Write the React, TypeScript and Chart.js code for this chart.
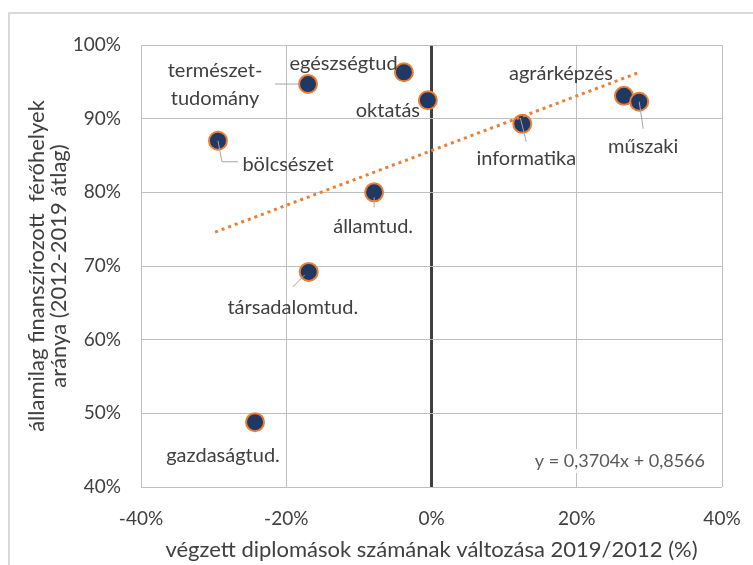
import React, { useEffect, useRef } from "react";
import { Chart, registerables } from "chart.js";

Chart.register(...registerables);

// ---- data ----
const pointLabels: string[][] = [
  ["természet-", "tudomány"],
  ["egészségtud."],
  ["oktatás"],
  ["bölcsészet"],
  ["államtud."],
  ["társadalomtud."],
  ["gazdaságtud."],
  ["informatika"],
  ["agrárképzés"],
  ["műszaki"],
];
const xValues = [-17.0, -3.8, -0.5, -29.4, -7.9, -16.9, -24.3, 12.5, 26.5, 28.6];
const yValues = [94.7, 96.3, 92.5, 87.0, 80.0, 69.2, 48.8, 89.3, 93.1, 92.3];
const trendX = [-29.8, 28.4];
const trendY = [74.6, 96.2];
const equationText = "y = 0,3704x + 0,8566";
const xTitle = "végzett diplomások számának változása 2019/2012 (%)";
const yTitle = ["államilag finanszírozott  férőhelyek", "aránya (2012-2019 átlag)"];

// ---- label layout (pixel offsets from each point) ----
const labelOffsets: [number, number][] = [
  [-93, 1], [-58, -9], [-40, 10], [70, 24], [-1, 34],
  [-16, 36], [-32, 33], [4, 35], [-63, -22], [4, 45],
];
const leaders: ([number, number][] | null)[] = [
  [[-33, 0], [-8, 0]],
  null,
  null,
  [[0, 0], [4, 21], [20, 21]],
  [[0, 5], [0, 15]],
  [[-16, 15], [-4, 3]],
  null,
  [[-2, -6], [4, 18]],
  null,
  [[0, 0], [4, 27]],
];

const FONT = "Lato, 'Open Sans', sans-serif";

const decorPlugin = {
  id: "decor",
  beforeDraw(chart: any) {
    const ctx = chart.ctx;
    ctx.save();
    ctx.strokeStyle = "#d9d9d9";
    ctx.lineWidth = 2;
    ctx.beginPath();
    ctx.moveTo(9, 565);
    ctx.lineTo(9, 13);
    ctx.lineTo(753, 13);
    ctx.stroke();
    ctx.restore();
  },
  afterDatasetsDraw(chart: any) {
    const ctx = chart.ctx;
    const meta = chart.getDatasetMeta(1);
    ctx.save();
    // leader lines
    ctx.strokeStyle = "#a6a6a6";
    ctx.lineWidth = 1;
    meta.data.forEach((el: any, i: number) => {
      const l = leaders[i];
      if (!l) return;
      ctx.beginPath();
      l.forEach(([dx, dy], k) => {
        if (k === 0) ctx.moveTo(el.x + dx, el.y + dy);
        else ctx.lineTo(el.x + dx, el.y + dy);
      });
      ctx.stroke();
    });
    // labels
    ctx.fillStyle = "#404040";
    ctx.font = `20px ${FONT}`;
    ctx.textAlign = "center";
    ctx.textBaseline = "middle";
    meta.data.forEach((el: any, i: number) => {
      const lines = pointLabels[i];
      const [dx, dy] = labelOffsets[i];
      const lh = 28;
      const start = el.y + dy - ((lines.length - 1) * lh) / 2;
      lines.forEach((t, k) => ctx.fillText(t, el.x + dx, start + k * lh));
    });
    // equation
    const area = chart.chartArea;
    ctx.font = `18px ${FONT}`;
    ctx.textAlign = "right";
    const w = ctx.measureText(equationText).width;
    const ex = area.right - 17;
    const ey = area.bottom - 26;
    ctx.fillStyle = "#ffffff";
    ctx.fillRect(ex - w - 4, ey - 12, w + 8, 24);
    ctx.fillStyle = "#595959";
    ctx.fillText(equationText, ex, ey);
    ctx.restore();
  },
};

export default function App() {
  const ref = useRef<HTMLCanvasElement | null>(null);
  useEffect(() => {
    if (!ref.current) return;
    const chart = new Chart(ref.current, {
      type: "scatter",
      data: {
        datasets: [
          {
            type: "line",
            label: "trend",
            data: trendX.map((x, i) => ({ x, y: trendY[i] })),
            borderColor: "#ed7d31",
            borderWidth: 3,
            borderDash: [3, 4],
            pointRadius: 0,
            fill: false,
          } as any,
          {
            label: "points",
            data: xValues.map((x, i) => ({ x, y: yValues[i] })),
            backgroundColor: "#1f3864",
            borderColor: "#ed7d31",
            borderWidth: 2,
            pointRadius: 9,
            pointHoverRadius: 9,
          },
        ],
      },
      options: {
        animation: false,
        responsive: false,
        maintainAspectRatio: false,
        events: [],
        layout: { padding: { top: 45, right: 31, left: 0, bottom: 0 } },
        plugins: { legend: { display: false }, tooltip: { enabled: false } },
        scales: {
          x: {
            type: "linear",
            min: -40,
            max: 40,
            afterFit: (s: any) => {
              s.height = 78;
              s.paddingLeft = 0;
              s.paddingRight = 0;
            },
            ticks: {
              stepSize: 20,
              padding: 20,
              color: "#404040",
              font: { family: FONT, size: 19 },
              callback: (v: any) => `${v}%`,
            },
            grid: {
              drawTicks: false,
              color: (c: any) => (c.tick && c.tick.value === 0 ? "#404040" : "#bfbfbf"),
              lineWidth: (c: any) => (c.tick && c.tick.value === 0 ? 3 : 1),
            },
            border: { display: false },
            title: {
              display: true,
              text: xTitle,
              color: "#404040",
              font: { family: FONT, size: 22 },
              padding: { top: 0, bottom: 2 },
            },
          },
          y: {
            min: 40,
            max: 100,
            afterFit: (s: any) => {
              s.width = 141;
              s.paddingTop = 0;
              s.paddingBottom = 0;
            },
            ticks: {
              stepSize: 10,
              padding: 20,
              color: "#404040",
              font: { family: FONT, size: 19 },
              callback: (v: any) => `${v}%`,
            },
            grid: { drawTicks: false, color: "#bfbfbf", lineWidth: 1 },
            border: { display: false },
            title: {
              display: true,
              text: yTitle,
              color: "#404040",
              font: { family: FONT, size: 22, lineHeight: 1.0 },
              padding: { top: 26, bottom: 0 },
            },
          },
        },
      },
      plugins: [decorPlugin],
    });
    return () => chart.destroy();
  }, []);
  return (
    <div style={{ position: "absolute", left: 0, top: 0, width: 753, height: 565, background: "#fff" }}>
      <canvas ref={ref} width={753} height={565} />
    </div>
  );
}
